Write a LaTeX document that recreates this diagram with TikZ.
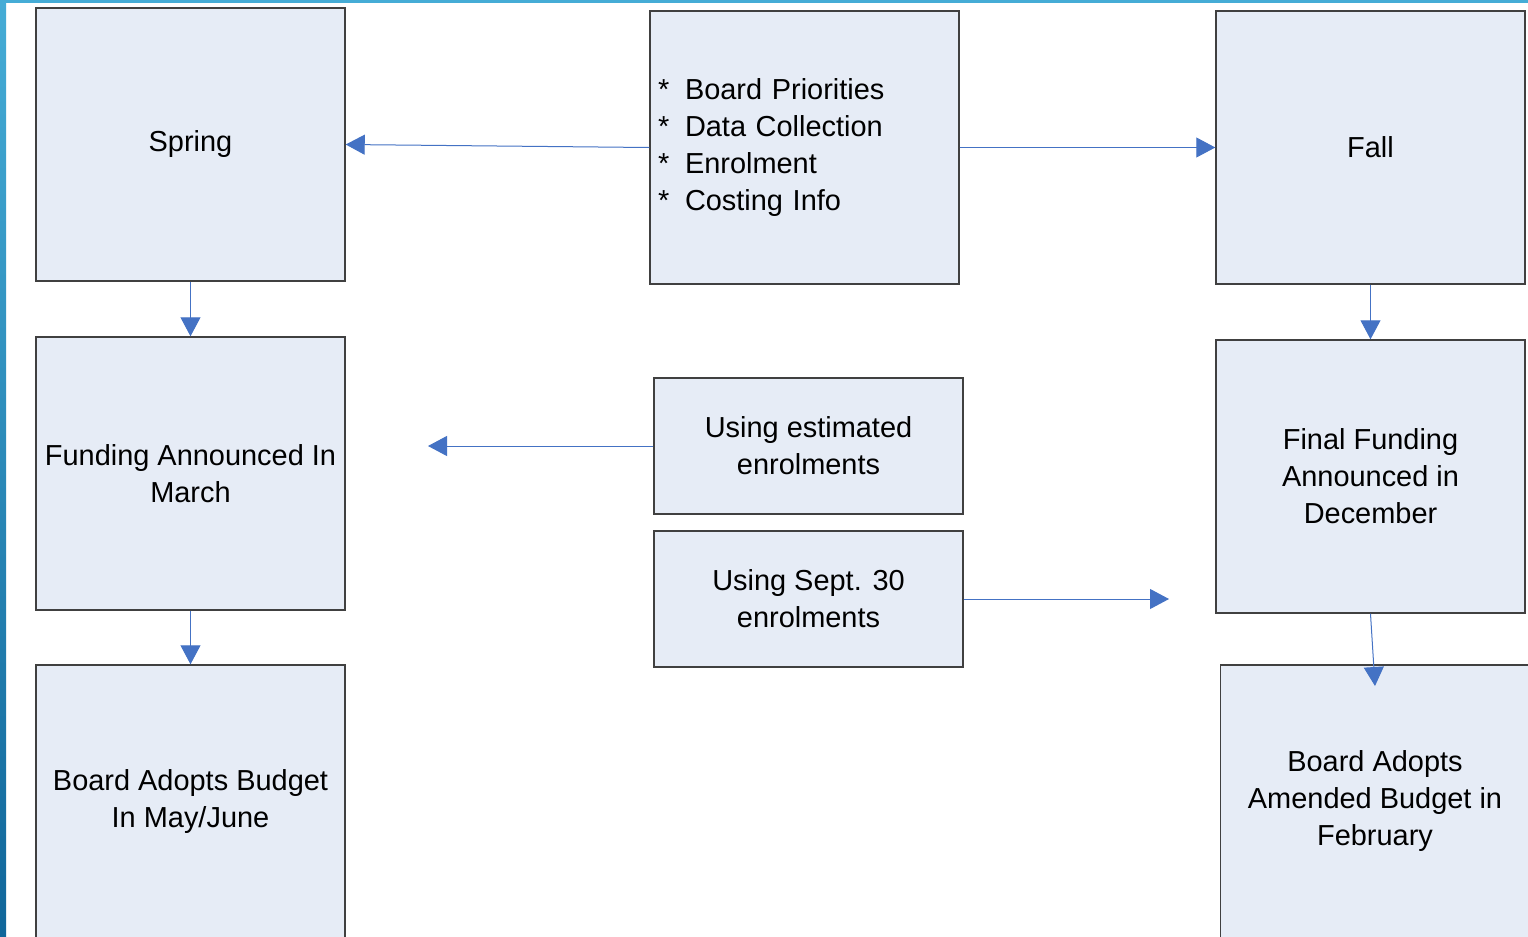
\documentclass[tikz,border=0pt]{standalone}
\usepackage{fontspec}
\setmainfont{Liberation Sans}
\usetikzlibrary{arrows.meta}
\definecolor{boxfill}{HTML}{E6ECF6}
\definecolor{boxline}{HTML}{404040}
\definecolor{arrowblue}{HTML}{4472C4}
\definecolor{stripA}{HTML}{45ACD6}
\definecolor{stripB}{HTML}{10669A}

\begin{document}
\begin{tikzpicture}[x=0.75pt,y=-0.75pt]
	\tikzstyle{every node}=[font=\fontsize{21.7}{27.75}\selectfont]
	\tikzstyle{stagebox}=[draw=boxline,line width=1.1pt,fill=boxfill,minimum width=231.75pt,minimum height=204.75pt,inner sep=0pt,align=center]
	\tikzstyle{notebox}=[stagebox,minimum height=102pt]
	\tikzstyle{flow}=[draw=arrowblue,line width=0.75pt,-{Triangle[length=14.25pt,width=15pt]}]
	
	\clip (0,0) rectangle (1528,936);
	\fill [white] (0,0) rectangle (1528,936);
	
	%% slide edge
	\shade [top color=stripA,bottom color=stripB] (0,0) rectangle (6,936);
	\fill [stripA] (0,0) rectangle (1528,3);
	
	%% left column
	\node [stagebox] (spring) at (190.5,144.5) {Spring};
	\node [stagebox] (march) at (190.5,473.5) {Funding Announced In\\March};
	\node [stagebox] (budget) at (190.5,801.5) {Board Adopts Budget\\In May/June};
	
	%% middle column
	\node [stagebox,align=left,text width=219.75pt,inner xsep=6pt] (priorities) at (804.5,147.5)
		{\makebox[20.25pt][l]{*}Board Priorities\\
		 \makebox[20.25pt][l]{*}Data Collection\\
		 \makebox[20.25pt][l]{*}Enrolment\\
		 \makebox[20.25pt][l]{*}Costing Info};
	\node [notebox] (estimated) at (808.5,446) {Using estimated\\enrolments};
	\node [notebox] (septem) at (808.5,599) {Using Sept. 30\\enrolments};
	
	%% right column
	\node [stagebox] (fall) at (1370.5,147.5) {Fall};
	\node [stagebox] (december) at (1370.5,476.5) {Final Funding\\Announced in\\December};
	\node [stagebox] (amended) at (1375,801.5) {Board Adopts\\Amended Budget in\\February};
	
	\coordinate (amtip) at (1375,686);
	\coordinate (estend) at (428,446);
	\coordinate (septend) at (1169,599);
	
	\draw [flow] (priorities.west) -- (spring.east);
	\draw [flow] (priorities.east) -- (fall.west);
	\draw [flow] (spring.south) -- (march.north);
	\draw [flow] (march.south) -- (budget.north);
	\draw [flow] (fall.south) -- (december.north);
	\draw [flow] (december.south) -- (amtip);
	\draw [flow] (estimated.west) -- (estend);
	\draw [flow] (septem.east) -- (septend);

\end{tikzpicture}
\end{document}
